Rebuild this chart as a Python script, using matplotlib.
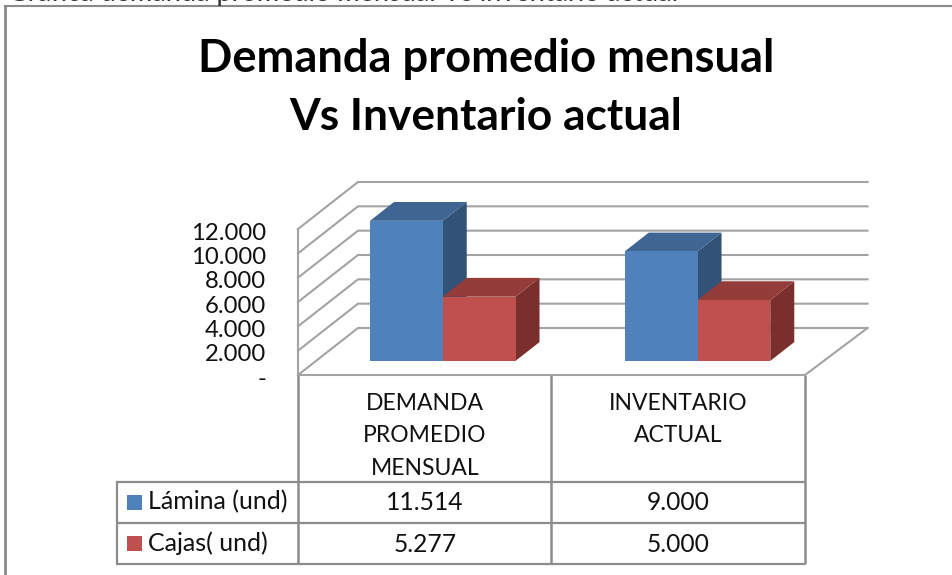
import matplotlib.pyplot as plt
from matplotlib.patches import Polygon, Rectangle
from matplotlib.transforms import ScaledTranslation

plt.rcParams['font.family'] = ['Lato', 'DejaVu Sans']

categories = ['DEMANDA\nPROMEDIO\nMENSUAL', 'INVENTARIO\nACTUAL\n ']
series_names = ['Lámina (und)', 'Cajas( und)']
lamina = [11514, 9000]
cajas = [5277, 5000]
table_lamina = ['11.514', '9.000']
table_cajas = ['5.277', '5.000']
y_ticks = [0, 2000, 4000, 6000, 8000, 10000, 12000]
y_labels = ['-', '2.000', '4.000', '6.000', '8.000', '10.000', '12.000']

W, H = 953, 575
grid_col = '#a3a3a3'
blue = ['#4f81bd', '#3f6592', '#335278']
red = ['#c0504d', '#933c39', '#7a2f2d']

# depth shift of the oblique 3d look, in data units per unit of depth
dx = 60 / 253.5
dy = 47 / 146 * 12000
x_back = 2.01


def proj(x, y, d):
    return (x + d * dx, y + d * dy)


fig = plt.figure(figsize=(W / 100, H / 100), dpi=100)

# pixel overlay for frame and table
pax = fig.add_axes([0, 0, 1, 1], zorder=0)
pax.set_xlim(0, W)
pax.set_ylim(H, 0)
pax.axis('off')

# chart axes, front plane of the box
ax = fig.add_axes([298 / W, 1 - 375 / H, 507 / W, 146 / H], zorder=1)
ax.patch.set_alpha(0)
ax.set_xlim(0, 2)
ax.set_ylim(0, 12000)
for s in ax.spines.values():
    s.set_visible(False)
ax.set_xticks([])
ax.set_yticks(y_ticks)
ax.set_yticklabels(y_labels, fontsize=17.2, color='#111111')
ax.tick_params(axis='y', length=0, pad=23)
for lab in ax.get_yticklabels():
    lab.set_transform(lab.get_transform() + ScaledTranslation(0, -2 / 100, fig.dpi_scale_trans))

# walls and gridlines
for t in y_ticks:
    xs, ys = zip(proj(0, t, 0), proj(0, t, 1), proj(x_back, t, 1))
    ax.plot(xs, ys, color=grid_col, lw=1.5, clip_on=False, zorder=1)
ax.plot([0, 0], [0, 12000], color=grid_col, lw=1.5, clip_on=False, zorder=1)
xs, ys = zip(proj(0, 0, 0), proj(2, 0, 0), proj(x_back, 0, 1))
ax.plot(xs, ys, color=grid_col, lw=1.5, clip_on=False, zorder=1)


def bar3d(x0, w, h, cols, z):
    d0, d1 = 0.3, 0.7
    front = [proj(x0, 0, d0), proj(x0 + w, 0, d0), proj(x0 + w, h, d0), proj(x0, h, d0)]
    top = [proj(x0, h, d0), proj(x0 + w, h, d0), proj(x0 + w, h, d1), proj(x0, h, d1)]
    side = [proj(x0 + w, 0, d0), proj(x0 + w, 0, d1), proj(x0 + w, h, d1), proj(x0 + w, h, d0)]
    for pts, c in zip([side, top, front], [cols[2], cols[1], cols[0]]):
        ax.add_patch(Polygon(pts, closed=True, fc=c, ec='none', clip_on=False, zorder=z))


gaps, bw = [0.213, 0.218], 0.287
for i in range(len(categories)):
    bar3d(i + gaps[i] + bw, bw, cajas[i], red, 4 - i * 0.1)
    bar3d(i + gaps[i], bw, lamina[i], blue, 3 - i * 0.1)

# frame
pax.plot([5, 5], [H, 6], color='#8a8a8a', lw=2)
pax.plot([5, W], [6, 6], color='#8a8a8a', lw=1.5)

# caption of the page, mostly cut off by the top edge
pax.text(8, 0.5, 'Gráfica demanda promedio mensual Vs inventario actual', ha='left',
         va='baseline', fontsize=19.5, color='#333333')

# title
pax.text(486, 59, 'Demanda promedio mensual', ha='center', va='center',
         fontsize=32.6, fontweight='bold', color='black')
pax.text(486, 117, 'Vs Inventario actual', ha='center', va='center',
         fontsize=31.9, fontweight='bold', color='black')

# data table
tc = '#8c8c8c'
col_x = [298, 551.5, 805]
row_y = [375, 481.5, 523, 564]
for x in col_x:
    pax.plot([x, x], [row_y[0], row_y[-1]], color=tc, lw=1.8, solid_capstyle='butt')
for y in row_y[1:]:
    pax.plot([117, 805], [y, y], color=tc, lw=1.6, solid_capstyle='butt')
pax.plot([117, 117], [row_y[1], row_y[-1]], color=tc, lw=1.6)

for i, name in enumerate(categories):
    cx = (col_x[i] + col_x[i + 1]) / 2
    pax.text(cx, 436, name, ha='center', va='center', fontsize=16.5,
             linespacing=1.67, color='#111111')
    pax.text(cx, 503, table_lamina[i], ha='center', va='center', fontsize=17.7, color='#111111')
    pax.text(cx, 544, table_cajas[i], ha='center', va='center', fontsize=17.7, color='#111111')

for name, col, y in zip(series_names, [blue[0], red[0]], [502, 543]):
    pax.add_patch(Rectangle((127, y - 7.5), 15, 15, fc=col, ec='none'))
    pax.text(148, y, name, ha='left', va='center', fontsize=18, color='#111111')

fig.savefig('out.png', dpi=100)
